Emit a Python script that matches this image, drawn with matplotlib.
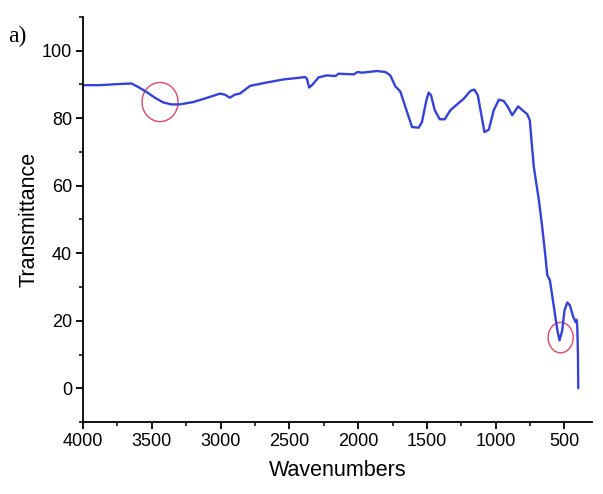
import matplotlib
matplotlib.use("Agg")
import matplotlib.pyplot as plt
from matplotlib.patches import Ellipse
from matplotlib.ticker import MultipleLocator

wavenumber = [4000, 3879, 3757, 3648, 3600, 3539, 3478, 3418, 3357, 3296, 3199, 3102, 3005,
              2969, 2933, 2896, 2860, 2811, 2785, 2664, 2542, 2385, 2373, 2356, 2331, 2288,
              2227, 2166, 2142, 2033, 2004, 1972, 1863, 1802, 1766, 1730, 1693, 1657, 1608,
              1560, 1536, 1504, 1487, 1470, 1443, 1407, 1371, 1329, 1281, 1232, 1184, 1155,
              1130, 1106, 1082, 1050, 1014, 977, 941, 912, 880, 837, 800, 771, 752, 740,
              723, 686, 662, 638, 625, 606, 577, 552, 536, 516, 500, 480, 461, 436, 419,
              412, 407, 402, 400]
transmittance = [89.8, 89.8, 90.1, 90.3, 89.3, 87.8, 86.1, 84.7, 84.1, 84.1, 84.8, 86.0, 87.3,
                 87.0, 86.1, 87.0, 87.3, 88.8, 89.6, 90.6, 91.5, 92.2, 91.8, 89.1, 90.0, 92.1,
                 92.7, 92.5, 93.2, 93.0, 93.7, 93.5, 94.0, 93.7, 92.7, 89.5, 87.9, 83.4, 77.4,
                 77.2, 78.9, 85.3, 87.6, 86.8, 82.4, 79.7, 79.7, 82.4, 84.1, 85.8, 88.1, 88.5,
                 86.8, 81.4, 75.9, 76.6, 82.4, 85.5, 85.1, 83.4, 80.9, 83.5, 82.2, 81.2, 79.4, 73.5,
                 65.6, 55.7, 47.8, 38.9, 33.5, 32.0, 24.1, 17.2, 14.2, 17.2, 23.1, 25.4, 24.6, 21.1, 19.6,
                 20.3, 18.2, 10.0, 0.0]

circle_x = [3440, 528]
circle_y = [84.8, 15.0]
circle_w = [262, 182]
circle_h = [11.6, 9.0]

x_ticks = [4000, 3500, 3000, 2500, 2000, 1500, 1000, 500]
y_ticks = [0, 20, 40, 60, 80, 100]

fig = plt.figure(figsize=(6.03, 4.94), dpi=100)
ax = fig.add_axes([83/603, 1-422/494, (592-83)/603, (422-17)/494])

ax.plot(wavenumber, transmittance, color="#3342DC", lw=1.7,
        solid_joinstyle="round", solid_capstyle="round")
for cx, cy, w, h in zip(circle_x, circle_y, circle_w, circle_h):
    ax.add_patch(Ellipse((cx, cy), w, h, fill=False, edgecolor="#E2456E", lw=1.0))

ax.set_xlim(4000, 300)
ax.set_ylim(-10, 110)
ax.set_xticks(x_ticks)
ax.set_yticks(y_ticks)
ax.xaxis.set_minor_locator(MultipleLocator(250))
ax.yaxis.set_minor_locator(MultipleLocator(10))
ax.spines["top"].set_visible(False)
ax.spines["right"].set_visible(False)
for s in ("left", "bottom"):
    ax.spines[s].set_linewidth(1.3)
ax.tick_params(which="major", direction="out", length=5, width=1.3, labelsize=13, pad=3)
ax.tick_params(which="minor", direction="out", length=3, width=1.1)
for lab in ax.get_xticklabels() + ax.get_yticklabels():
    lab.set_fontfamily("Liberation Sans")

ax.set_xlabel("Wavenumbers", fontsize=15.5, fontfamily="Liberation Sans", labelpad=7)
ax.set_ylabel("Transmittance", fontsize=15.5, fontfamily="Liberation Sans", labelpad=1.5)
fig.text(8/603, 1-36/494, "a)", fontsize=17, fontfamily="Liberation Serif", va="center", ha="left")

fig.savefig("out.png", dpi=100)
